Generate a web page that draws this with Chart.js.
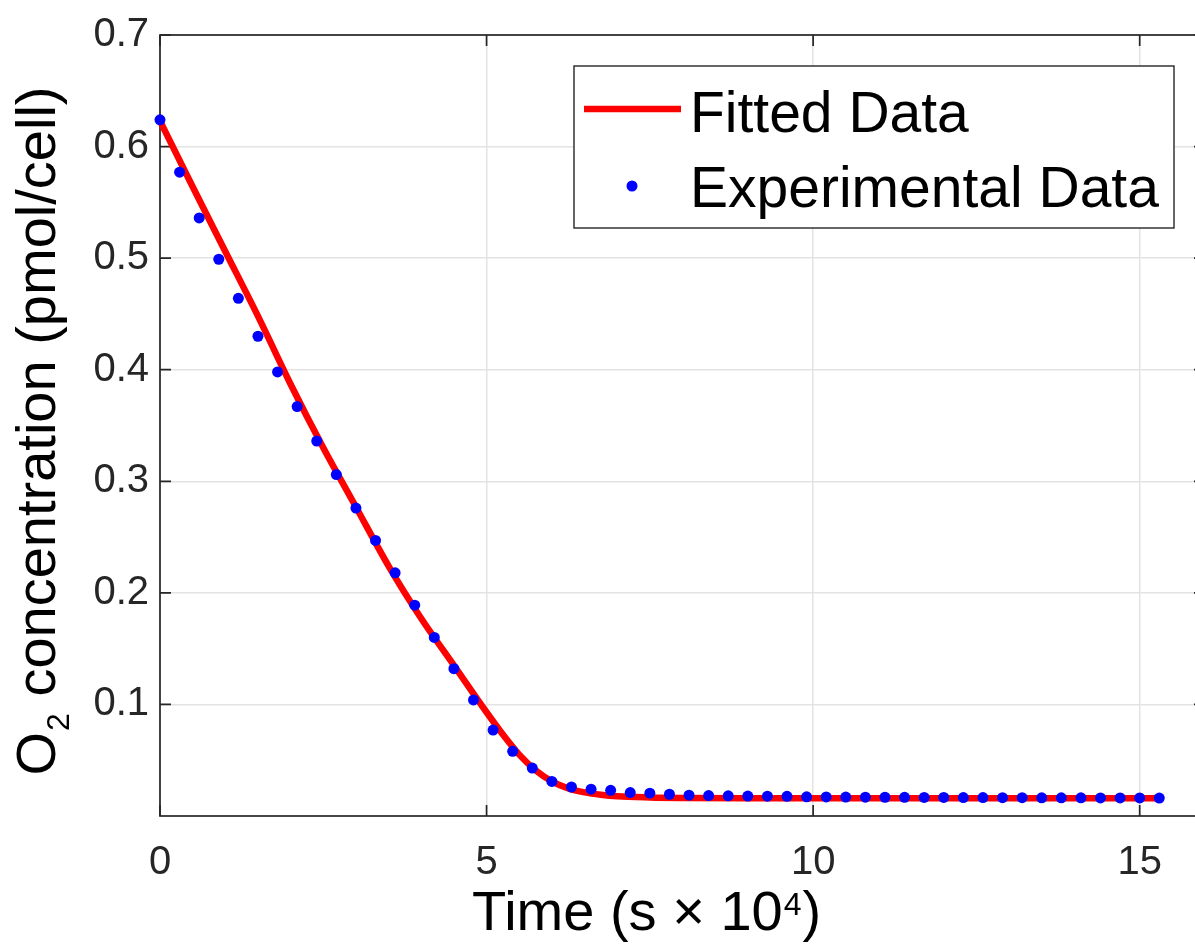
<!DOCTYPE html>
<html><head><meta charset="utf-8">
<script src="https://cdn.jsdelivr.net/npm/chart.js@4.4.1/dist/chart.umd.min.js"></script>
<style>html,body{margin:0;padding:0;overflow:hidden;background:#fff;width:1195px;height:947px}canvas{display:block}</style>
</head><body>
<canvas id="c" width="1215" height="947"></canvas>
<script>
// ---- data ----
const expTime = [0,0.3,0.6,0.9,1.2,1.5,1.8,2.1,2.4,2.7,3.0,3.3,3.6,3.9,4.2,4.5,4.8,5.1,5.4,5.7,6.0,6.3,6.6,6.9,7.2,7.5,7.8,8.1,8.4,8.7,9.0,9.3,9.6,9.9,10.2,10.5,10.8,11.1,11.4,11.7,12.0,12.3,12.6,12.9,13.2,13.5,13.8,14.1,14.4,14.7,15.0,15.3];
const expO2 = [0.624,0.577,0.536,0.499,0.464,0.430,0.398,0.367,0.336,0.306,0.276,0.247,0.218,0.189,0.160,0.132,0.104,0.077,0.058,0.043,0.031,0.026,0.024,0.023,0.021,0.0205,0.0195,0.0187,0.0183,0.0181,0.0179,0.0178,0.0176,0.0172,0.0171,0.0170,0.0169,0.0168,0.0167,0.0166,0.0166,0.0165,0.0165,0.0164,0.0164,0.0163,0.0163,0.0163,0.0162,0.0162,0.0162,0.0161];
const fitTime = [0,0.5,1,1.5,2,2.5,3,3.5,4,4.5,5,5.25,5.5,5.75,6,6.25,6.5,6.75,7,7.5,8,9,10,11,12,13,14,15,15.3];
const fitO2 = [0.623,0.564,0.506,0.448,0.387,0.330,0.277,0.224,0.177,0.135,0.093,0.073,0.055,0.041,0.031,0.0248,0.0212,0.019,0.0176,0.0166,0.0162,0.016,0.016,0.016,0.016,0.016,0.016,0.016,0.016];
const xTickValues = [0,5,10,15];
const yTickValues = [0.1,0.2,0.3,0.4,0.5,0.6,0.7];
const seriesLabels = ['Fitted Data','Experimental Data'];

const FONT = '"Liberation Sans", Arial, Helvetica, sans-serif';
const AXIS = '#262626';

const framePlugin = {
  id: 'frame',
  beforeDatasetsDraw(chart) {
    const {ctx, chartArea: a, scales: {x, y}} = chart;
    ctx.save();
    ctx.strokeStyle = AXIS; ctx.lineWidth = 1.7;
    ctx.strokeRect(a.left, a.top, a.right - a.left, a.bottom - a.top);
    const tl = 11;
    ctx.beginPath();
    xTickValues.forEach(v => {
      const px = x.getPixelForValue(v);
      ctx.moveTo(px, a.bottom); ctx.lineTo(px, a.bottom - tl);
      ctx.moveTo(px, a.top); ctx.lineTo(px, a.top + tl);
    });
    yTickValues.forEach(v => {
      const py = y.getPixelForValue(v);
      ctx.moveTo(a.left, py); ctx.lineTo(a.left + tl, py);
      ctx.moveTo(a.right, py); ctx.lineTo(a.right - tl, py);
    });
    ctx.stroke();
    ctx.restore();
  }
};

const titlePlugin = {
  id: 'titles',
  afterDraw(chart) {
    const {ctx, chartArea: a} = chart;
    ctx.save();
    ctx.fillStyle = '#000';
    ctx.textBaseline = 'alphabetic';
    ctx.textAlign = 'left';
    const big = '56px ' + FONT, small = '32px ' + FONT;
    // y title (rotated) with subscript
    ctx.font = big; const wO = ctx.measureText('O').width;
    const rest = ' concentration (pmol/cell)';
    const wR = ctx.measureText(rest).width;
    ctx.font = small; const w2 = ctx.measureText('2').width + 2;
    const total = wO + w2 + wR;
    ctx.translate(a.left - 105, a.top + 396);
    ctx.rotate(-Math.PI / 2);
    let u = -total / 2;
    ctx.font = big; ctx.fillText('O', u, 0); u += wO;
    ctx.font = small; ctx.fillText('2', u + 1, 14); u += w2;
    ctx.font = big; ctx.fillText(rest, u, 0);
    ctx.setTransform(1, 0, 0, 1, 0, 0);
    // x title with superscript
    let xx = a.left + 312; const by = a.bottom + 114;
    ctx.font = big; const t1 = 'Time (s \u00d7 10';
    ctx.fillText(t1, xx, by); xx += ctx.measureText(t1).width;
    ctx.font = small; ctx.fillText('4', xx + 1, by - 15); xx += ctx.measureText('4').width + 2;
    ctx.font = big; ctx.fillText(')', xx, by);
    ctx.restore();
  }
};

const legendPlugin = {
  id: 'matlabLegend',
  afterDraw(chart) {
    const {ctx, chartArea: a} = chart;
    const L = a.left + 414, T = a.top + 31, W = 600, H = 162;
    ctx.save();
    ctx.fillStyle = '#fff'; ctx.fillRect(L, T, W, H);
    ctx.strokeStyle = '#262626'; ctx.lineWidth = 1.4; ctx.strokeRect(L, T, W, H);
    ctx.strokeStyle = '#ff0000'; ctx.lineWidth = 6.5;
    ctx.beginPath(); ctx.moveTo(L + 10, T + 43); ctx.lineTo(L + 107, T + 43); ctx.stroke();
    ctx.fillStyle = '#0000ff';
    ctx.beginPath(); ctx.arc(L + 58, T + 120, 5.5, 0, Math.PI * 2); ctx.fill();
    ctx.fillStyle = '#000'; ctx.font = '57px ' + FONT; ctx.textAlign = 'left'; ctx.textBaseline = 'alphabetic';
    ctx.fillText(chart.data.datasets[1].label, L + 116, T + 66);
    ctx.fillText(chart.data.datasets[0].label, L + 116, T + 141);
    ctx.restore();
  }
};

new Chart(document.getElementById('c'), {
  type: 'scatter',
  data: {
    datasets: [
      {
        label: seriesLabels[1],
        data: expTime.map((t, i) => ({x: t, y: expO2[i]})),
        showLine: false, pointRadius: 5.5, pointHoverRadius: 5.5,
        backgroundColor: '#0000ff', borderColor: '#0000ff', borderWidth: 0,
        order: 0, clip: false
      },
      {
        label: seriesLabels[0],
        data: fitTime.map((t, i) => ({x: t, y: fitO2[i]})),
        showLine: true, pointRadius: 0, borderColor: '#ff0000', borderWidth: 6.5,
        cubicInterpolationMode: 'monotone', fill: false, order: 1, clip: false
      }
    ]
  },
  options: {
    responsive: false, animation: false, devicePixelRatio: 1,
    layout: {padding: {top: 33, right: 10, left: 0, bottom: 0}},
    plugins: {legend: {display: false}, tooltip: {enabled: false}, title: {display: false}},
    scales: {
      x: {
        type: 'linear', position: 'bottom', min: 0, max: 16,
        afterBuildTicks: s => { s.ticks = xTickValues.map(v => ({value: v})); },
        afterFit: s => { s.height = 131; },
        grid: {color: '#e3e3e3', lineWidth: 1.5, drawTicks: false},
        border: {display: false},
        ticks: {font: {family: FONT, size: 40}, color: AXIS, padding: 23, maxRotation: 0, autoSkip: false}
      },
      y: {
        type: 'linear', min: 0, max: 0.7,
        afterBuildTicks: s => { s.ticks = yTickValues.map(v => ({value: v})); },
        afterFit: s => { s.width = 160; },
        grid: {color: '#e3e3e3', lineWidth: 1.5, drawTicks: false},
        border: {display: false},
        ticks: {font: {family: FONT, size: 40}, color: AXIS, padding: 11, autoSkip: false}
      }
    }
  },
  plugins: [framePlugin, titlePlugin, legendPlugin]
});
</script>
</body></html>
